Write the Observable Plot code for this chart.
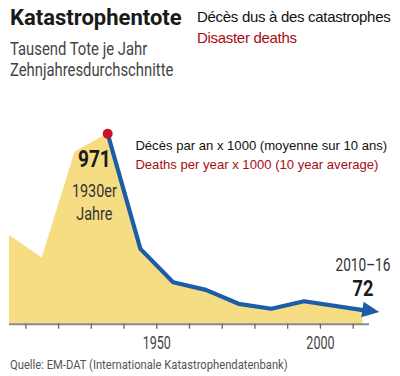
<!DOCTYPE html>
<html><head><meta charset="utf-8">
<script src="https://cdn.jsdelivr.net/npm/d3@7"></script>
<script src="https://cdn.jsdelivr.net/npm/@observablehq/plot@0.6"></script>
<style>
html,body{margin:0;padding:0;background:#fff;}
#wrap{position:relative;width:400px;height:376px;overflow:hidden;font-family:Roboto,"Liberation Sans",sans-serif;}
.abs{position:absolute;white-space:nowrap;}
#title{left:10px;top:6.5px;font-size:22px;line-height:1;font-weight:700;color:#1a1a1a;}
#sub{left:10px;top:37.8px;font-size:19px;line-height:21.5px;color:#444;transform:scaleX(0.78);transform-origin:0 0;}
#fr{left:197px;top:5.7px;font-family:"Liberation Sans",Arial,sans-serif;font-size:15px;line-height:21.6px;letter-spacing:-0.3px;color:#111;}
#fr .en{color:#a50d12;}
#chart{left:0;top:88px;}
#src{left:10px;top:358.2px;font-size:13.5px;line-height:1;color:#555;transform:scaleX(0.83);transform-origin:0 0;}
</style></head>
<body><div id="wrap">
<div class="abs" id="title">Katastrophentote</div>
<div class="abs" id="sub">Tausend Tote je Jahr<br>Zehnjahresdurchschnitte</div>
<div class="abs" id="fr">Décès dus à des catastrophes<br><span class="en">Disaster deaths</span></div>
<div class="abs" id="src">Quelle: EM-DAT (Internationale Katastrophendatenbank)</div>
</div>
<script>
// decade midpoints (last one: 2010–16)
const years  = [1905, 1915, 1925, 1935, 1945, 1955, 1965, 1975, 1985, 1995, 2013];
const deaths = [452, 337, 877, 971, 384, 214, 175, 104, 79, 117, 72];
const tickYears  = [1910, 1920, 1930, 1940, 1950, 1960, 1970, 1980, 1990, 2000, 2010];
const labelYears = [1950, 2000];
const peakLabel = "1930er\nJahre";
const lastLabel = "2010–16";
const noteFr = "Décès par an x 1000 (moyenne sur 10 ans)";
const noteEn = "Deaths per year x 1000 (10 year average)";

const data = years.map((year, i) => ({year, deaths: deaths[i]}));
const peakIndex = d3.maxIndex(data, d => d.deaths);
const peak = data[peakIndex];
const last = data[data.length - 1];
const lineData = data.slice(peakIndex);

const BLUE = "#1c5ca8";
const COND = 'Roboto,"Liberation Sans",sans-serif';
const ARIAL = '"Liberation Sans",Arial,sans-serif';

function arrowHead(index, scales) {
  const n = lineData.length;
  const a = lineData[n - 2], b = lineData[n - 1];
  const x0 = scales.x(a.year), y0 = scales.y(a.deaths);
  const x1 = scales.x(b.year), y1 = scales.y(b.deaths);
  const ang = Math.atan2(y1 - y0, x1 - x0);
  const L = 17, W = 7.8, ux = Math.cos(ang), uy = Math.sin(ang);
  const pts = [[x1 + ux * L, y1 + uy * L], [x1 - uy * W, y1 + ux * W], [x1 + uy * W, y1 - ux * W]];
  return d3.create("svg:path")
    .attr("d", "M" + pts.map(p => p.join(",")).join("L") + "Z")
    .attr("fill", BLUE).node();
}

const chart = Plot.plot({
  width: 400, height: 262,
  marginLeft: 9, marginRight: 31, marginTop: 45.3, marginBottom: 26.3,
  x: {domain: [1905, 2015]},
  y: {domain: [0, 971], axis: null},
  style: {fontFamily: COND, background: "transparent", overflow: "visible"},
  marks: [
    Plot.areaY(data, {x: "year", y: "deaths", fill: "#f6dc82"}),
    Plot.ruleY([0], {stroke: "#8a8a8a", strokeWidth: 2}),
    Plot.axisX({ticks: tickYears, tickSize: 5, tickPadding: 7, label: null,
      tickFormat: d => labelYears.includes(d) ? String(d) : "",
      fontSize: 18.7, stroke: "#666", strokeWidth: 1.3, fill: "#444", fontFamily: COND}),
    Plot.line(lineData, {x: "year", y: "deaths", stroke: BLUE, strokeWidth: 4.2, strokeLinejoin: "round"}),
    arrowHead,
    Plot.dot([peak], {x: "year", y: "deaths", r: 5, fill: "#cc1122"}),
    Plot.text([peak], {x: "year", y: "deaths", text: d => String(d.deaths), dx: -13.3, dy: 25.9,
      fontSize: 23.5, fontWeight: "bold", fill: "#1a1a1a", fontFamily: COND}),
    Plot.text([peak], {x: "year", y: "deaths", text: () => peakLabel, dx: -13.3, dy: 47.7,
      lineAnchor: "top", lineHeight: 1.18, fontSize: 19, fill: "#333", fontFamily: COND}),
    Plot.text([peak], {x: "year", y: "deaths", text: () => noteFr, dx: 27.7, dy: 12.4, textAnchor: "start",
      fontSize: 13.1, fill: "#111", fontFamily: ARIAL}),
    Plot.text([peak], {x: "year", y: "deaths", text: () => noteEn, dx: 27.7, dy: 30.9, textAnchor: "start",
      fontSize: 13.1, fill: "#a50d12", fontFamily: ARIAL}),
    Plot.text([last], {x: "year", y: "deaths", text: () => lastLabel, dy: -44.9,
      fontSize: 18.7, fill: "#333", fontFamily: COND}),
    Plot.text([last], {x: "year", y: "deaths", text: d => String(d.deaths), dy: -20.8,
      fontSize: 22.5, fontWeight: "bold", fill: "#1a1a1a", fontFamily: COND})
  ]
});

// horizontal condensing of the DIN-like labels (Roboto squeezed)
function squeeze(sel, k) {
  sel.each(function () {
    const t = this.getAttribute("transform");
    if (t) this.setAttribute("transform", t + ` scale(${k},1)`);
    else {
      const x = +this.getAttribute("x") || 0, y = +this.getAttribute("y") || 0;
      this.removeAttribute("x"); this.removeAttribute("y");
      this.setAttribute("transform", `translate(${x},${y}) scale(${k},1)`);
    }
  });
}
const svg = d3.select(chart);
const textScales = [0.81, 0.76, 1, 1, 0.73, 0.81];
svg.selectAll('g[aria-label="text"]').each(function (_, i) {
  if (textScales[i] !== 1) squeeze(d3.select(this).selectAll("text"), textScales[i]);
});
squeeze(svg.selectAll('g[aria-label="x-axis tick label"] text'), 0.67);

chart.id = "chart";
chart.classList.add("abs");
document.getElementById("wrap").appendChild(chart);
</script>
</body></html>
